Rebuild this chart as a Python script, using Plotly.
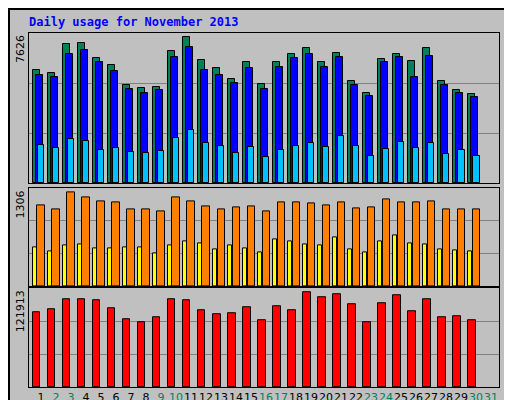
import plotly.graph_objects as go
from plotly.subplots import make_subplots

days = list(range(1, 31))
weekend = [2, 3, 9, 10, 16, 17, 23, 24, 30, 31]
hits = [5756,5605,7064,7115,6360,6007,5000,4849,4900,6712,7417,6259,5856,5302,6158,5051,6158,6561,6863,6158,6611,5202,4598,6309,6561,6209,6863,5202,4749,4547]
files = [5504,5403,6561,6762,6158,5705,4799,4598,4749,6410,6913,5756,5504,5101,5856,4799,5907,6360,6561,5907,6410,5000,4447,6158,6410,5403,6460,5000,4598,4396]
pages = [1930,1779,2232,2131,1678,1779,1577,1527,1628,2282,2685,2030,1879,1527,1829,1326,1678,1879,2030,1829,2383,1879,1376,1728,2081,1779,2030,1477,1678,1376]
sites = [1082,1029,1253,1187,1134,1121,1029,1029,1002,1187,1134,1068,1029,1055,1068,1002,1121,1121,1108,1082,1121,1042,1055,1161,1121,1121,1134,1029,1029,1029]
visits = [514,462,541,554,501,501,514,514,435,541,594,567,488,541,501,449,620,594,554,541,646,488,449,594,673,567,554,488,475,462]
kbytes = [92360,96050,108370,108370,107140,97290,83740,80050,86200,108370,107140,94830,89900,91130,98520,82510,99750,94830,116990,110830,114530,102210,80050,103440,113300,93590,108370,86200,87440,82510]
max_hits, max_sites, max_kb = 7626, 1306, 121913

fig = make_subplots(rows=3, cols=1, shared_xaxes=True)
line = dict(color="black", width=1)
def bars(y, off, w, color, row):
    fig.add_trace(go.Bar(x=days, y=y, offset=off - w / 2, width=w, marker=dict(color=color, line=line),
                         showlegend=False, hoverinfo="skip"), row=row, col=1)

bars(hits, -0.28, 0.46, "#00805C", 1)
bars(files, -0.13, 0.46, "#0000FF", 1)
bars(pages, 0.0, 0.46, "#00C0FF", 1)
bars(visits, -0.38, 0.25, "#FFFF00", 2)
bars(sites, 0.0, 0.47, "#FF8000", 2)
bars(kbytes, -0.27, 0.47, "#FF0000", 3)

ticktext = [f'<span style="color:{"#00805C" if d in weekend else "black"}">{d}</span>' for d in range(1, 32)]
for r in (1, 2, 3):
    fig.update_xaxes(range=[0.2, 31.53], showline=True, linecolor="black", mirror=True,
                     showgrid=False, zeroline=False, ticks="", row=r, col=1)
fig.update_xaxes(tickvals=list(range(1, 32)), ticktext=ticktext, showticklabels=True, tickangle=0,
                 tickfont=dict(family="DejaVu Sans", size=11), row=3, col=1)
doms = [[0.575, 1.0], [0.285, 0.561], [0.0, 0.279]]
maxes = [max_hits, max_sites, max_kb]
for r in (1, 2, 3):
    m = maxes[r - 1]
    fig.update_yaxes(domain=doms[r - 1], range=[0, m], tickvals=[m / 3, 2 * m / 3], showticklabels=False,
                     gridcolor="#808080", gridwidth=1, showline=True, linecolor="black", mirror=True,
                     zeroline=False, row=r, col=1)

ann = []
for r, label in zip((1, 2, 3), ("7626", "1306", "121913")):
    ann.append(dict(text=label, xref="paper", yref="paper", x=0, xshift=-9, y=doms[r - 1][1], xanchor="center",
                    yanchor="top", textangle=-90, showarrow=False,
                    font=dict(family="DejaVu Sans", size=11, color="black")))
def sp(t, c):
    return f'<span style="color:{c}">{t}</span>'
mono = dict(family="DejaVu Sans Mono", size=11)
ann.append(dict(text=sp("Pages", "#00C0FF") + " / " + sp("Files", "#0000FF") + " / " + sp("Hits", "#00805C"),
                xref="paper", yref="paper", x=1, xshift=10, y=1.0, xanchor="center", yanchor="top", textangle=-90,
                showarrow=False, font=mono))
ann.append(dict(text=sp("Sites", "#FF8000") + " / " + sp("Visits", "#FFFF00"),
                xref="paper", yref="paper", x=1, xshift=10, y=0.565, xanchor="center", yanchor="top", textangle=-90,
                showarrow=False, font=mono))
ann.append(dict(text=sp("kB F", "#FF0000") + " / " + sp("kB In", "#0000FF") + " / " + sp("kB Out", "#00805C"),
                xref="paper", yref="paper", x=1, xshift=10, y=0.0, xanchor="center", yanchor="bottom", textangle=-90,
                showarrow=False, font=mono))
ann.append(dict(text="<b>Daily usage for November 2013</b>", xref="paper", yref="paper", x=-0.005, y=1.0,
                yshift=20, xanchor="left", yanchor="top", showarrow=False,
                font=dict(family="DejaVu Sans Mono", size=12, color="#0000FF")))

fig.update_layout(width=512, height=400, margin=dict(l=21, r=21, t=25, b=21, autoexpand=False),
                  paper_bgcolor="#C0C0C0", plot_bgcolor="#C0C0C0", barmode="overlay",
                  annotations=ann, bargap=0,
                  shapes=[dict(type="rect", xref="paper", yref="paper", x0=-20/470, x1=1+20/470, y0=-20/354,
                               y1=1+24/354, line=dict(color="black", width=2))])
fig.write_html("out.html")
